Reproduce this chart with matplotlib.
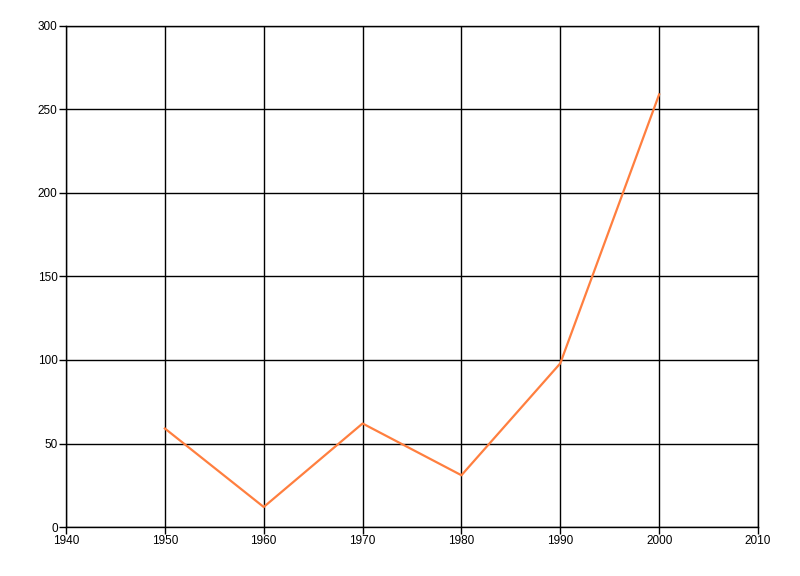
import matplotlib
matplotlib.use('Agg')
import matplotlib.pyplot as plt

# Data
years = [1950, 1960, 1970, 1980, 1990, 2000]
values = [59, 12, 62, 31, 98, 259]

x_ticks = [1940, 1950, 1960, 1970, 1980, 1990, 2000, 2010]
y_ticks = [0, 50, 100, 150, 200, 250, 300]

plt.rcParams['font.family'] = ['Liberation Sans', 'DejaVu Sans']

fig = plt.figure(figsize=(8, 5.76), dpi=100)
ax = fig.add_axes([0.0825, 0.085, 0.865, 0.87])

ax.plot(years, values, color='#FF7F3F', linewidth=1.6, zorder=3)

ax.set_xlim(1940, 2010)
ax.set_ylim(0, 300)
ax.set_xticks(x_ticks)
ax.set_yticks(y_ticks)
ax.grid(True, color='black', linewidth=1)
ax.set_axisbelow(True)

for spine in ax.spines.values():
    spine.set_color('black')
    spine.set_linewidth(1)

ax.tick_params(axis='both', labelsize=8.5, colors='black', length=5, width=1, pad=1)

fig.savefig('out.png', dpi=100)
